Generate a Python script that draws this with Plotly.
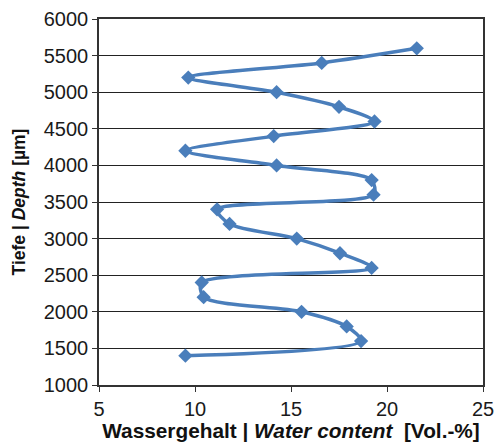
import plotly.graph_objects as go

# Depth profile of water content
depth_um = [1400, 1600, 1800, 2000, 2200, 2400, 2600, 2800, 3000, 3200, 3400,
            3600, 3800, 4000, 4200, 4400, 4600, 4800, 5000, 5200, 5400, 5600]
water_content = [9.5, 18.65, 17.9, 15.55, 10.45, 10.35, 19.2, 17.55, 15.3, 11.8, 11.15,
                 19.3, 19.2, 14.25, 9.5, 14.1, 19.35, 17.5, 14.25, 9.65, 16.6, 21.55]

x_ticks = [5, 10, 15, 20, 25]
y_ticks = [1000, 1500, 2000, 2500, 3000, 3500, 4000, 4500, 5000, 5500, 6000]

line_color = "#4a7ebb"
font_family = "Liberation Sans, Arial, sans-serif"

fig = go.Figure()
fig.add_trace(go.Scatter(
    x=water_content, y=depth_um,
    mode="lines+markers",
    line=dict(color=line_color, width=3.5, shape="spline", smoothing=0.8),
    marker=dict(symbol="diamond", size=11, color=line_color),
    showlegend=False,
))

fig.update_layout(
    width=504, height=442,
    margin=dict(l=99, r=21, t=19, b=57),
    paper_bgcolor="white", plot_bgcolor="white",
    font=dict(family=font_family, size=20, color="#1a1a1a"),
    xaxis=dict(
        range=[5, 25], tickvals=x_ticks, automargin=False,
        showgrid=False, zeroline=False,
        showline=True, linecolor="#333333", linewidth=1.5, mirror=True,
        ticks="outside", ticklen=5, tickcolor="#333333",
        tickfont=dict(size=20),
        title=dict(text="<b>Wassergehalt | <i>Water content</i>  [Vol.-%]</b>",
                   font=dict(size=20.8, color="#111111"), standoff=0),
    ),
    yaxis=dict(
        range=[1000, 6000], tickvals=y_ticks, automargin=False,
        showgrid=True, gridcolor="#222222", gridwidth=1.2, zeroline=False,
        showline=True, linecolor="#333333", linewidth=1.5, mirror=True,
        ticks="outside", ticklen=5, tickcolor="#333333",
        tickfont=dict(size=20),
        title=dict(text="<b>Tiefe | <i>Depth</i> [µm]</b>",
                   font=dict(size=17.5, color="#111111"), standoff=14),
    ),
)

fig.write_html("out.html")
